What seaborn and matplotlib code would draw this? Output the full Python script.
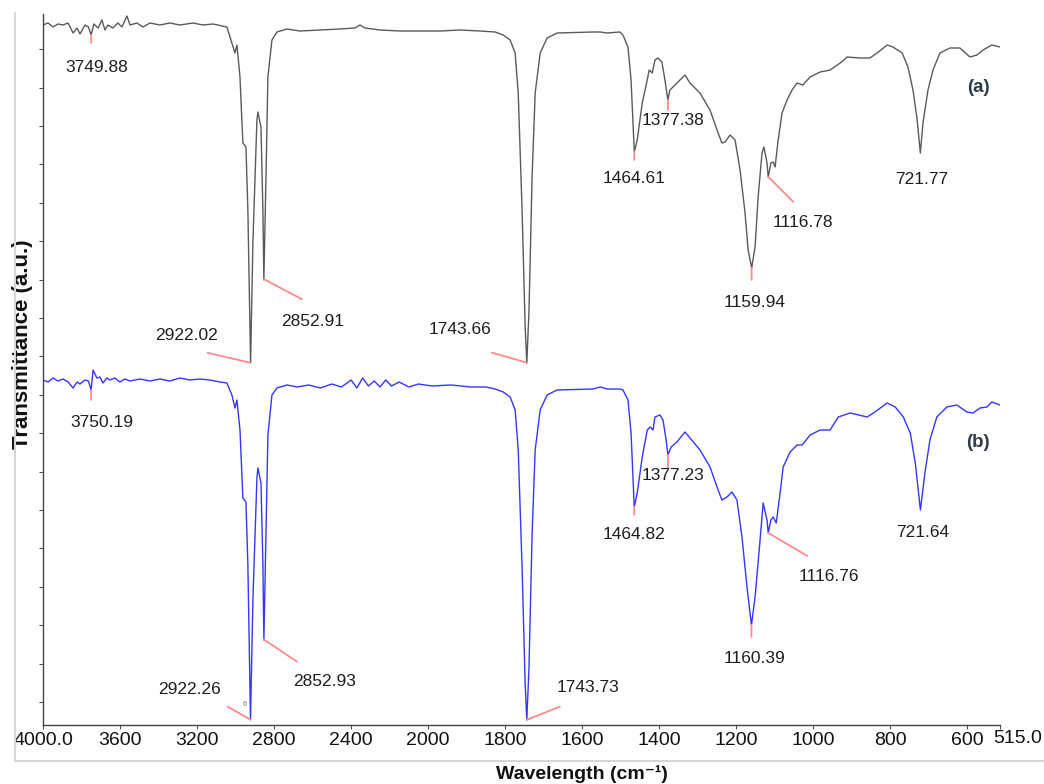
import numpy as np
import pandas as pd
import matplotlib
matplotlib.use("Agg")
import matplotlib.pyplot as plt
from matplotlib.lines import Line2D
import seaborn as sns

# ---- spectrum (a): wavenumber (cm-1) / transmittance (a.u.) ----
wn_a = [4000, 3974, 3948, 3922, 3896, 3870, 3844, 3823, 3808, 3782, 3764, 3750, 3736, 3714,
        3694, 3678, 3663, 3637, 3611, 3590, 3564, 3548, 3512, 3481, 3444, 3393, 3341, 3289,
        3221, 3169, 3117, 3045, 3019, 3003, 2993, 2977, 2962, 2946, 2936, 2922, 2910, 2889,
        2884, 2868, 2858, 2853, 2842, 2832, 2811, 2785, 2733, 2666, 2562, 2458, 2380, 2354,
        2328, 2250, 2146, 2042, 1969, 1917, 1865, 1826, 1805, 1787, 1774, 1766, 1756, 1748,
        1743.7, 1738, 1730, 1722, 1709, 1691, 1665, 1572, 1553, 1535, 1502, 1494, 1481, 1473,
        1464.6, 1457, 1444, 1431, 1426, 1418, 1411, 1403, 1393, 1385, 1377.4, 1372, 1359, 1346,
        1333, 1320, 1294, 1268, 1247, 1237, 1229, 1216, 1203, 1190, 1177, 1169, 1159.9, 1151,
        1143, 1133, 1128, 1120, 1116.8, 1110, 1104, 1099, 1091, 1081, 1068, 1055, 1042, 1027,
        1008, 982, 956, 930, 912, 879, 853, 834, 808, 793, 769, 754, 741, 731, 721.8, 715, 702,
        689, 671, 645, 619, 593, 575, 559, 536, 515]
tr_a = [700, 702, 698, 701, 700, 702, 692, 697, 691, 700, 698, 690, 701, 697,
        705, 695, 700, 697, 702, 698, 709, 700, 702, 698, 702, 700, 702, 700,
        702, 700, 701, 698, 682, 672, 680, 648, 582, 578, 515, 362, 482, 605,
        613, 598, 515, 445, 548, 648, 685, 693, 696, 694, 695, 696, 697, 700,
        697, 695, 694, 694, 694, 695, 694, 693, 690, 685, 672, 632, 515, 398,
        362, 415, 548, 632, 672, 687, 692, 693, 693, 692, 693, 690, 678, 645,
        573, 585, 622, 645, 655, 652, 665, 667, 663, 645, 625, 635, 640, 645,
        650, 642, 632, 615, 592, 582, 583, 590, 585, 555, 512, 475, 457, 478,
        528, 572, 578, 562, 548, 562, 563, 558, 585, 612, 625, 635, 642, 640,
        648, 653, 655, 662, 668, 667, 667, 672, 680, 678, 672, 658, 635, 608, 572, 602, 635,
        655, 672, 677, 677, 668, 670, 675, 680, 678]

# ---- spectrum (b) ----
wn_b = [4000, 3974, 3948, 3922, 3896, 3870, 3844, 3823, 3808, 3782, 3764, 3750, 3740, 3720,
        3704, 3689, 3668, 3653, 3627, 3601, 3575, 3548, 3497, 3444, 3393, 3341, 3289, 3237,
        3185, 3133, 3081, 3045, 3019, 3003, 2993, 2977, 2962, 2946, 2936, 2922.3, 2910, 2889,
        2884, 2868, 2858, 2852.9, 2842, 2832, 2811, 2785, 2733, 2680, 2620, 2560, 2500, 2450,
        2400, 2370, 2340, 2310, 2280, 2250, 2220, 2190, 2150, 2100, 2050, 1990, 1940, 1890,
        1850, 1826, 1805, 1787, 1774, 1766, 1756, 1748, 1743.7, 1738, 1730, 1722, 1709, 1691,
        1665, 1572, 1553, 1535, 1502, 1494, 1481, 1473, 1464.8, 1457, 1444, 1431, 1423, 1416,
        1411, 1398, 1390, 1382, 1377.2, 1369, 1354, 1333, 1320, 1294, 1268, 1247, 1237, 1224,
        1211, 1198, 1185, 1172, 1160.4, 1151, 1138, 1130, 1120, 1116.8, 1110, 1104, 1096, 1086,
        1078, 1060, 1042, 1029, 1008, 982, 956, 935, 904, 860, 840, 808, 787, 766, 748, 735,
        721.6, 710, 697, 679, 653, 627, 601, 585, 567, 549, 536, 515]
tr_b = [345, 343, 347, 344, 346, 343, 337, 343, 341, 345, 344, 335, 355, 347,
        348, 342, 347, 345, 347, 343, 346, 344, 346, 344, 346, 344, 347, 345,
        346, 345, 343, 342, 330, 317, 325, 295, 227, 223, 160, 5, 125, 247,
        257, 242, 160, 85, 190, 290, 330, 337, 340, 338, 340, 337, 341, 338,
        345, 337, 347, 339, 344, 338, 345, 339, 343, 338, 341, 339, 340, 338,
        338, 336, 333, 328, 315, 275, 158, 41, 5, 58, 191, 275, 315, 330,
        335, 336, 338, 336, 336, 335, 325, 292, 218, 232, 268, 295, 298, 295,
        308, 310, 305, 285, 270, 278, 283, 293, 287, 275, 258, 235, 225, 228,
        233, 225, 188, 138, 100, 128, 185, 222, 205, 192, 205, 208, 202, 232,
        258, 273, 280, 280, 290, 295, 295, 308, 312, 308, 313, 322, 318, 308, 292, 262,
        215, 252, 285, 308, 318, 320, 313, 312, 317, 318, 323, 320]

# ---- labelled peaks ----
peaks_a = [3749.88, 2922.02, 2852.91, 1743.66, 1464.61, 1377.38, 1159.94, 1116.78, 721.77]
peaks_b = [3750.19, 2922.26, 2852.93, 1743.73, 1464.82, 1377.23, 1160.39, 1116.76, 721.64]

# marker line end (dx, dy) and label centre (dx, dy), pixels from the peak
layout_a = [(0, -8, 6, -33), (-43, 10, -64, 27), (38, -20, 49, -42), (-35, 10, -67, 33),
            (0, -8, 0, -27), (0, -10, 5, -21), (0, -12, 3, -35), (25, -25, 35, -46),
            (0, 0, 1, -27)]
layout_b = [(0, -10, 11, -33), (-23, 13, -61, 30), (33, -22, 61, -42), (33, 13, 61, 32),
            (0, -8, 0, -28), (0, -13, 5, -21), (0, -12, 3, -34), (39, -23, 61, -44),
            (0, 0, 2, -23)]

xticks = [4000, 3600, 3200, 2800, 2400, 2000, 1800, 1600, 1400, 1200, 1000, 800, 600, 515]
xticklabels = ["4000.0", "3600", "3200", "2800", "2400", "2000", "1800", "1600", "1400",
               "1200", "1000", "800", "600", "515.0"]

sns.set_theme(style="ticks")
plt.rcParams["font.family"] = ["Liberation Sans", "DejaVu Sans"]

df_a = pd.DataFrame({"wn": wn_a, "T": tr_a})
df_b = pd.DataFrame({"wn": wn_b, "T": tr_b})


def fwd(w):
    w = np.asarray(w, dtype=float)
    return np.where(w >= 2000, w, 2 * w - 2000)


def inv(u):
    u = np.asarray(u, dtype=float)
    return np.where(u >= 2000, u, (u + 2000) / 2)


def annotate_peaks(ax, df, peaks, layout):
    xs = df["wn"].values[::-1]
    ys = df["T"].values[::-1]
    for w, (ldx, ldy, tdx, tdy) in zip(peaks, layout):
        y = np.interp(w, xs, ys)
        if ldx or ldy:
            ax.annotate("", xy=(w, y), xytext=(ldx, ldy), textcoords="offset pixels",
                        arrowprops=dict(arrowstyle="-", color="#ff8a8a", lw=1.3,
                                        shrinkA=0, shrinkB=0))
        ax.annotate(f"{w:.2f}", xy=(w, y), xytext=(tdx, tdy), textcoords="offset pixels",
                    ha="center", va="center", fontsize=12.5, color="#1e1e1e")


fig = plt.figure(figsize=(10.44, 7.84), dpi=100)
ax = fig.add_axes([43 / 1044, 59 / 784, 957 / 1044, 711 / 784])
ax.set_xscale("function", functions=(fwd, inv))

sns.lineplot(data=df_a, x="wn", y="T", color="#5a5a5a", lw=1.0, estimator=None, ax=ax)
sns.lineplot(data=df_b, x="wn", y="T", color="#3535ff", lw=1.0, estimator=None, ax=ax)

annotate_peaks(ax, df_a, peaks_a, layout_a)
annotate_peaks(ax, df_b, peaks_b, layout_b)
# stray marker left by the instrument software
ax.annotate("6", xy=(peaks_b[1], 5), xytext=(-6, 15), textcoords="offset pixels",
            ha="center", va="center", fontsize=5.5, color="#777777")

ax.text(0.977, 0.897, "(a)", transform=ax.transAxes, ha="center", va="center",
        fontsize=13.5, fontweight="bold", color="#2f3b4c")
ax.text(0.977, 0.398, "(b)", transform=ax.transAxes, ha="center", va="center",
        fontsize=13.5, fontweight="bold", color="#2f3b4c")

ax.set_xlim(4000, 515)
ax.set_ylim(0, 711)
ax.set_xticks(xticks)
ax.set_xticklabels(xticklabels[:-1] + [""])
# last label sits to the right of its tick, as in the instrument printout
ax.annotate(xticklabels[-1], xy=(xticks[-1], 0), xycoords=("data", "axes fraction"),
            xytext=(-7, -5), textcoords="offset pixels", ha="left", va="top",
            fontsize=14, color="#111111")
ax.set_yticks(np.arange(23, 711, 38.4))
ax.set_yticklabels([])
ax.xaxis.set_minor_locator(matplotlib.ticker.NullLocator())
ax.tick_params(axis="x", length=3, width=0.8, color="#555555", pad=2, labelsize=14,
               labelcolor="#111111")
ax.tick_params(axis="y", length=3, width=0.8, color="#555555")

sns.despine(ax=ax)
for s in ["left", "bottom"]:
    ax.spines[s].set_color("#444444")
    ax.spines[s].set_linewidth(1.0)

ax.set_xlabel("Wavelength (cm\u207b\u00b9)", fontsize=14, fontweight="bold", color="#111111")
ax.xaxis.set_label_coords((582 - 43) / 957, (725 - 765) / 711)
ax.set_ylabel("Transmittance (a.u.)", fontsize=16, fontweight="bold", color="#111111")
ax.yaxis.set_label_coords((33 - 43) / 957, (725 - 344) / 711)

# light frame of the original figure box
fig.add_artist(Line2D([15 / 1044, 15 / 1044], [1 - 13 / 784, 1 - 761 / 784],
                      transform=fig.transFigure, color="#d6d6d6", lw=1.5))
fig.add_artist(Line2D([15 / 1044, 1.0], [1 - 761 / 784, 1 - 761 / 784],
                      transform=fig.transFigure, color="#d6d6d6", lw=1.5))

fig.savefig("out.png", dpi=100)
